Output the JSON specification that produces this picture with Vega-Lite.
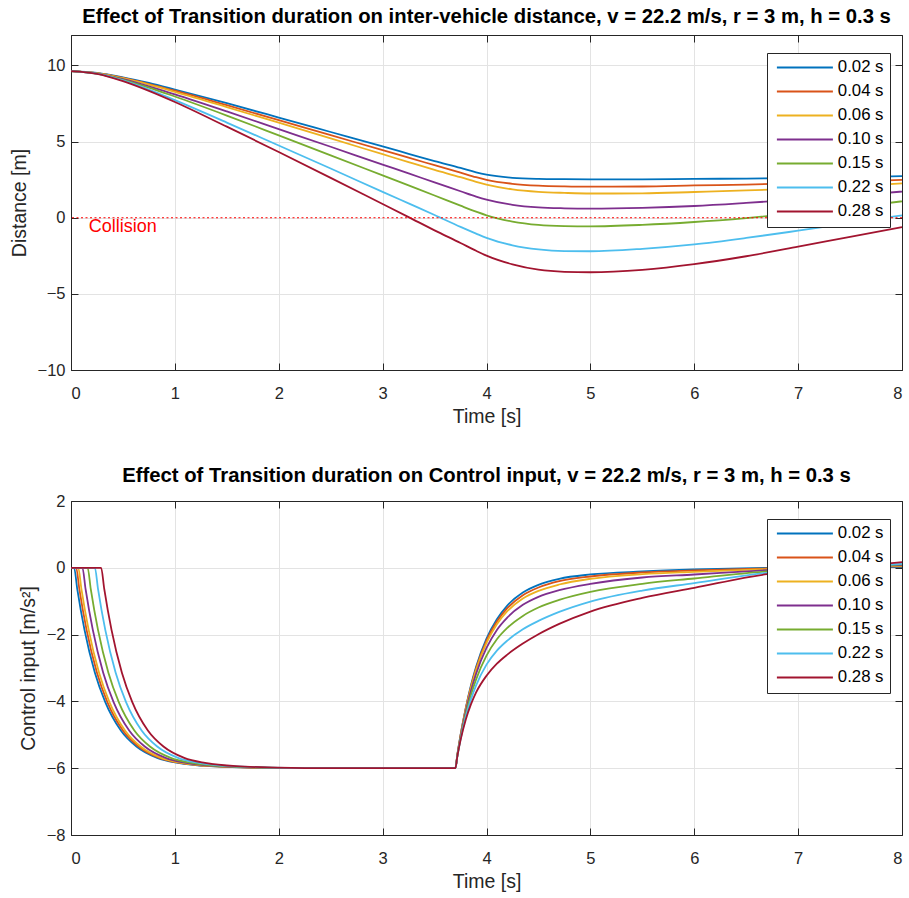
{
  "$schema": "https://vega.github.io/schema/vega-lite/v6.json",
  "background": "white",
  "padding": {"left": 8, "top": 6, "right": 0, "bottom": 0},
  "datasets": {
    "dist": [
      {"s":"0.02 s","t":0,"v":9.63},{"s":"0.02 s","t":0.25,"v":9.51},{"s":"0.02 s","t":0.5,"v":9.22},{"s":"0.02 s","t":0.75,"v":8.85},{"s":"0.02 s","t":1,"v":8.42},{"s":"0.02 s","t":1.5,"v":7.52},{"s":"0.02 s","t":2,"v":6.58},{"s":"0.02 s","t":2.5,"v":5.63},{"s":"0.02 s","t":3,"v":4.68},{"s":"0.02 s","t":3.25,"v":4.2},{"s":"0.02 s","t":3.5,"v":3.72},{"s":"0.02 s","t":3.75,"v":3.27},{"s":"0.02 s","t":3.9,"v":2.98},{"s":"0.02 s","t":4,"v":2.83},{"s":"0.02 s","t":4.25,"v":2.62},{"s":"0.02 s","t":4.5,"v":2.55},{"s":"0.02 s","t":4.75,"v":2.53},{"s":"0.02 s","t":5,"v":2.52},{"s":"0.02 s","t":5.5,"v":2.52},{"s":"0.02 s","t":6,"v":2.55},{"s":"0.02 s","t":6.5,"v":2.57},{"s":"0.02 s","t":7,"v":2.6},{"s":"0.02 s","t":7.5,"v":2.65},{"s":"0.02 s","t":8,"v":2.73},
      {"s":"0.04 s","t":0,"v":9.63},{"s":"0.04 s","t":0.25,"v":9.5},{"s":"0.04 s","t":0.5,"v":9.18},{"s":"0.04 s","t":0.75,"v":8.78},{"s":"0.04 s","t":1,"v":8.34},{"s":"0.04 s","t":1.5,"v":7.39},{"s":"0.04 s","t":2,"v":6.41},{"s":"0.04 s","t":2.5,"v":5.42},{"s":"0.04 s","t":3,"v":4.44},{"s":"0.04 s","t":3.25,"v":3.94},{"s":"0.04 s","t":3.5,"v":3.45},{"s":"0.04 s","t":3.75,"v":2.96},{"s":"0.04 s","t":3.9,"v":2.66},{"s":"0.04 s","t":4,"v":2.49},{"s":"0.04 s","t":4.25,"v":2.23},{"s":"0.04 s","t":4.5,"v":2.11},{"s":"0.04 s","t":4.75,"v":2.06},{"s":"0.04 s","t":5,"v":2.04},{"s":"0.04 s","t":5.5,"v":2.05},{"s":"0.04 s","t":6,"v":2.12},{"s":"0.04 s","t":6.5,"v":2.18},{"s":"0.04 s","t":7,"v":2.26},{"s":"0.04 s","t":7.5,"v":2.36},{"s":"0.04 s","t":8,"v":2.49},
      {"s":"0.06 s","t":0,"v":9.63},{"s":"0.06 s","t":0.25,"v":9.49},{"s":"0.06 s","t":0.5,"v":9.16},{"s":"0.06 s","t":0.75,"v":8.74},{"s":"0.06 s","t":1,"v":8.27},{"s":"0.06 s","t":1.5,"v":7.27},{"s":"0.06 s","t":2,"v":6.24},{"s":"0.06 s","t":2.5,"v":5.21},{"s":"0.06 s","t":3,"v":4.17},{"s":"0.06 s","t":3.25,"v":3.65},{"s":"0.06 s","t":3.5,"v":3.14},{"s":"0.06 s","t":3.75,"v":2.66},{"s":"0.06 s","t":3.9,"v":2.35},{"s":"0.06 s","t":4,"v":2.17},{"s":"0.06 s","t":4.25,"v":1.86},{"s":"0.06 s","t":4.5,"v":1.7},{"s":"0.06 s","t":4.75,"v":1.63},{"s":"0.06 s","t":5,"v":1.59},{"s":"0.06 s","t":5.5,"v":1.6},{"s":"0.06 s","t":6,"v":1.69},{"s":"0.06 s","t":6.5,"v":1.79},{"s":"0.06 s","t":7,"v":1.91},{"s":"0.06 s","t":7.5,"v":2.06},{"s":"0.06 s","t":8,"v":2.26},
      {"s":"0.10 s","t":0,"v":9.63},{"s":"0.10 s","t":0.25,"v":9.47},{"s":"0.10 s","t":0.5,"v":9.1},{"s":"0.10 s","t":0.75,"v":8.63},{"s":"0.10 s","t":1,"v":8.1},{"s":"0.10 s","t":1.5,"v":6.98},{"s":"0.10 s","t":2,"v":5.82},{"s":"0.10 s","t":2.5,"v":4.66},{"s":"0.10 s","t":3,"v":3.49},{"s":"0.10 s","t":3.25,"v":2.91},{"s":"0.10 s","t":3.5,"v":2.32},{"s":"0.10 s","t":3.75,"v":1.74},{"s":"0.10 s","t":3.9,"v":1.39},{"s":"0.10 s","t":4,"v":1.19},{"s":"0.10 s","t":4.25,"v":0.85},{"s":"0.10 s","t":4.5,"v":0.68},{"s":"0.10 s","t":4.75,"v":0.62},{"s":"0.10 s","t":5,"v":0.6},{"s":"0.10 s","t":5.5,"v":0.65},{"s":"0.10 s","t":6,"v":0.77},{"s":"0.10 s","t":6.5,"v":0.97},{"s":"0.10 s","t":7,"v":1.2},{"s":"0.10 s","t":7.5,"v":1.43},{"s":"0.10 s","t":8,"v":1.72},
      {"s":"0.15 s","t":0,"v":9.63},{"s":"0.15 s","t":0.25,"v":9.46},{"s":"0.15 s","t":0.5,"v":9.06},{"s":"0.15 s","t":0.75,"v":8.55},{"s":"0.15 s","t":1,"v":7.96},{"s":"0.15 s","t":1.5,"v":6.71},{"s":"0.15 s","t":2,"v":5.41},{"s":"0.15 s","t":2.5,"v":4.1},{"s":"0.15 s","t":3,"v":2.78},{"s":"0.15 s","t":3.25,"v":2.12},{"s":"0.15 s","t":3.5,"v":1.46},{"s":"0.15 s","t":3.75,"v":0.79},{"s":"0.15 s","t":3.9,"v":0.4},{"s":"0.15 s","t":4,"v":0.16},{"s":"0.15 s","t":4.25,"v":-0.25},{"s":"0.15 s","t":4.5,"v":-0.47},{"s":"0.15 s","t":4.75,"v":-0.55},{"s":"0.15 s","t":5,"v":-0.57},{"s":"0.15 s","t":5.5,"v":-0.47},{"s":"0.15 s","t":6,"v":-0.28},{"s":"0.15 s","t":6.5,"v":-0.02},{"s":"0.15 s","t":7,"v":0.3},{"s":"0.15 s","t":7.5,"v":0.66},{"s":"0.15 s","t":8,"v":1.08},
      {"s":"0.22 s","t":0,"v":9.63},{"s":"0.22 s","t":0.25,"v":9.46},{"s":"0.22 s","t":0.5,"v":9.02},{"s":"0.22 s","t":0.75,"v":8.42},{"s":"0.22 s","t":1,"v":7.72},{"s":"0.22 s","t":1.5,"v":6.25},{"s":"0.22 s","t":2,"v":4.74},{"s":"0.22 s","t":2.5,"v":3.23},{"s":"0.22 s","t":3,"v":1.7},{"s":"0.22 s","t":3.25,"v":0.94},{"s":"0.22 s","t":3.5,"v":0.18},{"s":"0.22 s","t":3.75,"v":-0.6},{"s":"0.22 s","t":3.9,"v":-1.04},{"s":"0.22 s","t":4,"v":-1.32},{"s":"0.22 s","t":4.25,"v":-1.81},{"s":"0.22 s","t":4.5,"v":-2.08},{"s":"0.22 s","t":4.75,"v":-2.19},{"s":"0.22 s","t":5,"v":-2.2},{"s":"0.22 s","t":5.5,"v":-2.04},{"s":"0.22 s","t":6,"v":-1.75},{"s":"0.22 s","t":6.5,"v":-1.33},{"s":"0.22 s","t":7,"v":-0.85},{"s":"0.22 s","t":7.5,"v":-0.35},{"s":"0.22 s","t":8,"v":0.16},
      {"s":"0.28 s","t":0,"v":9.63},{"s":"0.28 s","t":0.25,"v":9.45},{"s":"0.28 s","t":0.5,"v":8.97},{"s":"0.28 s","t":0.75,"v":8.33},{"s":"0.28 s","t":1,"v":7.6},{"s":"0.28 s","t":1.5,"v":5.98},{"s":"0.28 s","t":2,"v":4.32},{"s":"0.28 s","t":2.5,"v":2.62},{"s":"0.28 s","t":3,"v":0.9},{"s":"0.28 s","t":3.25,"v":0.04},{"s":"0.28 s","t":3.5,"v":-0.83},{"s":"0.28 s","t":3.75,"v":-1.66},{"s":"0.28 s","t":3.9,"v":-2.17},{"s":"0.28 s","t":4,"v":-2.49},{"s":"0.28 s","t":4.25,"v":-3.06},{"s":"0.28 s","t":4.5,"v":-3.41},{"s":"0.28 s","t":4.75,"v":-3.55},{"s":"0.28 s","t":5,"v":-3.58},{"s":"0.28 s","t":5.5,"v":-3.42},{"s":"0.28 s","t":6,"v":-3.05},{"s":"0.28 s","t":6.5,"v":-2.53},{"s":"0.28 s","t":7,"v":-1.9},{"s":"0.28 s","t":7.5,"v":-1.25},{"s":"0.28 s","t":8,"v":-0.61}
    ],
    "ctrl": [
      {"s":"0.02 s","t":0,"v":0},{"s":"0.02 s","t":0.03,"v":0},{"s":"0.02 s","t":0.06,"v":-0.63},{"s":"0.02 s","t":0.13,"v":-1.86},{"s":"0.02 s","t":0.23,"v":-3.14},{"s":"0.02 s","t":0.33,"v":-4.02},{"s":"0.02 s","t":0.48,"v":-4.87},{"s":"0.02 s","t":0.63,"v":-5.35},{"s":"0.02 s","t":0.83,"v":-5.69},{"s":"0.02 s","t":1.03,"v":-5.84},{"s":"0.02 s","t":1.33,"v":-5.94},{"s":"0.02 s","t":1.73,"v":-5.98},{"s":"0.02 s","t":2.23,"v":-6},{"s":"0.02 s","t":3.7,"v":-6},
      {"s":"0.02 s","t":3.72,"v":-5.58},{"s":"0.02 s","t":3.75,"v":-5.01},{"s":"0.02 s","t":3.8,"v":-4.2},{"s":"0.02 s","t":3.85,"v":-3.52},{"s":"0.02 s","t":3.9,"v":-2.96},{"s":"0.02 s","t":4,"v":-2.12},{"s":"0.02 s","t":4.1,"v":-1.54},{"s":"0.02 s","t":4.2,"v":-1.13},{"s":"0.02 s","t":4.35,"v":-0.74},{"s":"0.02 s","t":4.5,"v":-0.51},{"s":"0.02 s","t":4.7,"v":-0.33},{"s":"0.02 s","t":5,"v":-0.2},{"s":"0.02 s","t":5.5,"v":-0.11},{"s":"0.02 s","t":6,"v":-0.05},{"s":"0.02 s","t":6.7,"v":0},{"s":"0.02 s","t":7.3,"v":0.02},{"s":"0.02 s","t":8,"v":0.02},
      {"s":"0.04 s","t":0,"v":0},{"s":"0.04 s","t":0.05,"v":0},{"s":"0.04 s","t":0.08,"v":-0.63},{"s":"0.04 s","t":0.15,"v":-1.86},{"s":"0.04 s","t":0.25,"v":-3.14},{"s":"0.04 s","t":0.35,"v":-4.02},{"s":"0.04 s","t":0.5,"v":-4.87},{"s":"0.04 s","t":0.65,"v":-5.35},{"s":"0.04 s","t":0.85,"v":-5.69},{"s":"0.04 s","t":1.05,"v":-5.84},{"s":"0.04 s","t":1.35,"v":-5.94},{"s":"0.04 s","t":1.75,"v":-5.98},{"s":"0.04 s","t":2.25,"v":-6},{"s":"0.04 s","t":3.7,"v":-6},
      {"s":"0.04 s","t":3.72,"v":-5.59},{"s":"0.04 s","t":3.75,"v":-5.02},{"s":"0.04 s","t":3.8,"v":-4.22},{"s":"0.04 s","t":3.85,"v":-3.56},{"s":"0.04 s","t":3.9,"v":-3.01},{"s":"0.04 s","t":4,"v":-2.18},{"s":"0.04 s","t":4.1,"v":-1.61},{"s":"0.04 s","t":4.2,"v":-1.21},{"s":"0.04 s","t":4.35,"v":-0.82},{"s":"0.04 s","t":4.5,"v":-0.59},{"s":"0.04 s","t":4.7,"v":-0.4},{"s":"0.04 s","t":5,"v":-0.26},{"s":"0.04 s","t":5.5,"v":-0.14},{"s":"0.04 s","t":6,"v":-0.08},{"s":"0.04 s","t":6.7,"v":-0.02},{"s":"0.04 s","t":7.3,"v":0.02},{"s":"0.04 s","t":8,"v":0.04},
      {"s":"0.06 s","t":0,"v":0},{"s":"0.06 s","t":0.07,"v":0},{"s":"0.06 s","t":0.1,"v":-0.63},{"s":"0.06 s","t":0.17,"v":-1.86},{"s":"0.06 s","t":0.27,"v":-3.14},{"s":"0.06 s","t":0.37,"v":-4.02},{"s":"0.06 s","t":0.52,"v":-4.87},{"s":"0.06 s","t":0.67,"v":-5.35},{"s":"0.06 s","t":0.87,"v":-5.69},{"s":"0.06 s","t":1.07,"v":-5.84},{"s":"0.06 s","t":1.37,"v":-5.94},{"s":"0.06 s","t":1.77,"v":-5.98},{"s":"0.06 s","t":2.27,"v":-6},{"s":"0.06 s","t":3.7,"v":-6},
      {"s":"0.06 s","t":3.72,"v":-5.59},{"s":"0.06 s","t":3.75,"v":-5.04},{"s":"0.06 s","t":3.8,"v":-4.25},{"s":"0.06 s","t":3.85,"v":-3.6},{"s":"0.06 s","t":3.9,"v":-3.06},{"s":"0.06 s","t":4,"v":-2.25},{"s":"0.06 s","t":4.1,"v":-1.69},{"s":"0.06 s","t":4.2,"v":-1.3},{"s":"0.06 s","t":4.35,"v":-0.92},{"s":"0.06 s","t":4.5,"v":-0.69},{"s":"0.06 s","t":4.7,"v":-0.5},{"s":"0.06 s","t":5,"v":-0.33},{"s":"0.06 s","t":5.5,"v":-0.19},{"s":"0.06 s","t":6,"v":-0.12},{"s":"0.06 s","t":6.7,"v":-0.04},{"s":"0.06 s","t":7.3,"v":0.02},{"s":"0.06 s","t":8,"v":0.06},
      {"s":"0.10 s","t":0,"v":0},{"s":"0.10 s","t":0.11,"v":0},{"s":"0.10 s","t":0.14,"v":-0.63},{"s":"0.10 s","t":0.21,"v":-1.86},{"s":"0.10 s","t":0.31,"v":-3.14},{"s":"0.10 s","t":0.41,"v":-4.02},{"s":"0.10 s","t":0.56,"v":-4.87},{"s":"0.10 s","t":0.71,"v":-5.35},{"s":"0.10 s","t":0.91,"v":-5.69},{"s":"0.10 s","t":1.11,"v":-5.84},{"s":"0.10 s","t":1.41,"v":-5.94},{"s":"0.10 s","t":1.81,"v":-5.98},{"s":"0.10 s","t":2.31,"v":-6},{"s":"0.10 s","t":3.7,"v":-6},
      {"s":"0.10 s","t":3.72,"v":-5.61},{"s":"0.10 s","t":3.75,"v":-5.07},{"s":"0.10 s","t":3.8,"v":-4.31},{"s":"0.10 s","t":3.85,"v":-3.69},{"s":"0.10 s","t":3.9,"v":-3.17},{"s":"0.10 s","t":4,"v":-2.4},{"s":"0.10 s","t":4.1,"v":-1.86},{"s":"0.10 s","t":4.2,"v":-1.49},{"s":"0.10 s","t":4.35,"v":-1.11},{"s":"0.10 s","t":4.5,"v":-0.87},{"s":"0.10 s","t":4.7,"v":-0.67},{"s":"0.10 s","t":5,"v":-0.48},{"s":"0.10 s","t":5.5,"v":-0.29},{"s":"0.10 s","t":6,"v":-0.2},{"s":"0.10 s","t":6.7,"v":-0.07},{"s":"0.10 s","t":7.3,"v":0.01},{"s":"0.10 s","t":8,"v":0.08},
      {"s":"0.15 s","t":0,"v":0},{"s":"0.15 s","t":0.16,"v":0},{"s":"0.15 s","t":0.19,"v":-0.63},{"s":"0.15 s","t":0.26,"v":-1.86},{"s":"0.15 s","t":0.36,"v":-3.14},{"s":"0.15 s","t":0.46,"v":-4.02},{"s":"0.15 s","t":0.61,"v":-4.87},{"s":"0.15 s","t":0.76,"v":-5.35},{"s":"0.15 s","t":0.96,"v":-5.69},{"s":"0.15 s","t":1.16,"v":-5.84},{"s":"0.15 s","t":1.46,"v":-5.94},{"s":"0.15 s","t":1.86,"v":-5.98},{"s":"0.15 s","t":2.36,"v":-6},{"s":"0.15 s","t":3.7,"v":-6},
      {"s":"0.15 s","t":3.72,"v":-5.62},{"s":"0.15 s","t":3.75,"v":-5.11},{"s":"0.15 s","t":3.8,"v":-4.39},{"s":"0.15 s","t":3.85,"v":-3.81},{"s":"0.15 s","t":3.9,"v":-3.34},{"s":"0.15 s","t":4,"v":-2.63},{"s":"0.15 s","t":4.1,"v":-2.14},{"s":"0.15 s","t":4.2,"v":-1.8},{"s":"0.15 s","t":4.35,"v":-1.44},{"s":"0.15 s","t":4.5,"v":-1.19},{"s":"0.15 s","t":4.7,"v":-0.96},{"s":"0.15 s","t":5,"v":-0.72},{"s":"0.15 s","t":5.5,"v":-0.48},{"s":"0.15 s","t":6,"v":-0.32},{"s":"0.15 s","t":6.7,"v":-0.11},{"s":"0.15 s","t":7.3,"v":-0.01},{"s":"0.15 s","t":8,"v":0.1},
      {"s":"0.22 s","t":0,"v":0},{"s":"0.22 s","t":0.23,"v":0},{"s":"0.22 s","t":0.26,"v":-0.63},{"s":"0.22 s","t":0.33,"v":-1.86},{"s":"0.22 s","t":0.43,"v":-3.14},{"s":"0.22 s","t":0.53,"v":-4.02},{"s":"0.22 s","t":0.68,"v":-4.87},{"s":"0.22 s","t":0.83,"v":-5.35},{"s":"0.22 s","t":1.03,"v":-5.69},{"s":"0.22 s","t":1.23,"v":-5.84},{"s":"0.22 s","t":1.53,"v":-5.94},{"s":"0.22 s","t":1.93,"v":-5.98},{"s":"0.22 s","t":2.43,"v":-6},{"s":"0.22 s","t":3.7,"v":-6},
      {"s":"0.22 s","t":3.72,"v":-5.63},{"s":"0.22 s","t":3.75,"v":-5.14},{"s":"0.22 s","t":3.8,"v":-4.46},{"s":"0.22 s","t":3.85,"v":-3.94},{"s":"0.22 s","t":3.9,"v":-3.52},{"s":"0.22 s","t":4,"v":-2.9},{"s":"0.22 s","t":4.1,"v":-2.48},{"s":"0.22 s","t":4.2,"v":-2.18},{"s":"0.22 s","t":4.35,"v":-1.84},{"s":"0.22 s","t":4.5,"v":-1.59},{"s":"0.22 s","t":4.7,"v":-1.32},{"s":"0.22 s","t":5,"v":-1.01},{"s":"0.22 s","t":5.5,"v":-0.68},{"s":"0.22 s","t":6,"v":-0.46},{"s":"0.22 s","t":6.7,"v":-0.15},{"s":"0.22 s","t":7.3,"v":-0.02},{"s":"0.22 s","t":8,"v":0.12},
      {"s":"0.28 s","t":0,"v":0},{"s":"0.28 s","t":0.29,"v":0},{"s":"0.28 s","t":0.32,"v":-0.63},{"s":"0.28 s","t":0.39,"v":-1.86},{"s":"0.28 s","t":0.49,"v":-3.14},{"s":"0.28 s","t":0.59,"v":-4.02},{"s":"0.28 s","t":0.74,"v":-4.87},{"s":"0.28 s","t":0.89,"v":-5.35},{"s":"0.28 s","t":1.09,"v":-5.69},{"s":"0.28 s","t":1.29,"v":-5.84},{"s":"0.28 s","t":1.59,"v":-5.94},{"s":"0.28 s","t":1.99,"v":-5.98},{"s":"0.28 s","t":2.49,"v":-6},{"s":"0.28 s","t":3.7,"v":-6},
      {"s":"0.28 s","t":3.72,"v":-5.63},{"s":"0.28 s","t":3.75,"v":-5.16},{"s":"0.28 s","t":3.8,"v":-4.55},{"s":"0.28 s","t":3.85,"v":-4.09},{"s":"0.28 s","t":3.9,"v":-3.73},{"s":"0.28 s","t":4,"v":-3.23},{"s":"0.28 s","t":4.1,"v":-2.87},{"s":"0.28 s","t":4.2,"v":-2.6},{"s":"0.28 s","t":4.35,"v":-2.27},{"s":"0.28 s","t":4.5,"v":-1.99},{"s":"0.28 s","t":4.7,"v":-1.68},{"s":"0.28 s","t":5,"v":-1.31},{"s":"0.28 s","t":5.5,"v":-0.9},{"s":"0.28 s","t":6,"v":-0.6},{"s":"0.28 s","t":6.7,"v":-0.19},{"s":"0.28 s","t":7.3,"v":-0.03},{"s":"0.28 s","t":8,"v":0.17}
    ]
  },
  "vconcat": [
    {
      "width": 831,
      "height": 335,
      "title": {"text": "Effect of Transition duration on inter-vehicle distance, v = 22.2 m/s, r = 3 m, h = 0.3 s", "offset": 7},
      "layer": [
        {
          "data": {"name": "dist"},
          "mark": {"type": "line", "strokeWidth": 1.8, "interpolate": "monotone"},
          "encoding": {
            "x": {"field": "t", "type": "quantitative", "scale": {"domain": [0, 8], "nice": false}, "axis": {"values": [0,1,2,3,4,5,6,7,8], "title": "Time [s]", "grid": true, "labelPadding": 22, "titlePadding": 6}},
            "y": {"field": "v", "type": "quantitative", "scale": {"domain": [-10, 12], "nice": false, "zero": false}, "axis": {"values": [-10,-5,0,5,10], "title": "Distance [m]", "grid": true, "labelPadding": 13, "titlePadding": 8}},
            "color": {"field": "s", "type": "nominal", "scale": {"domain": ["0.02 s","0.04 s","0.06 s","0.10 s","0.15 s","0.22 s","0.28 s"], "range": ["#0072BD","#D95319","#EDB120","#7E2F8E","#77AC30","#4DBEEE","#A2142F"]}, "legend": {"title": null}}
          }
        },
        {
          "data": {"values": [{}]},
          "mark": {"type": "rule", "color": "#ff0000", "strokeDash": [2, 2.5], "strokeWidth": 1.2},
          "encoding": {"y": {"datum": 0, "type": "quantitative", "axis": null}}
        },
        {
          "data": {"values": [{}]},
          "mark": {"type": "text", "text": "Collision", "color": "#ff0000", "fontSize": 18, "align": "left", "baseline": "middle", "dy": 9},
          "encoding": {"x": {"datum": 0.17, "type": "quantitative", "axis": null}, "y": {"datum": 0, "type": "quantitative", "axis": null}}
        },
        {
          "data": {"name": "dist"},
          "mark": {"type": "line", "opacity": 0},
          "encoding": {
            "x": {"field": "t", "type": "quantitative", "axis": {"orient": "top", "labels": false, "title": null, "grid": false, "values": [0,1,2,3,4,5,6,7,8]}},
            "y": {"field": "v", "type": "quantitative", "axis": {"orient": "right", "labels": false, "title": null, "grid": false, "values": [-10,-5,0,5,10]}},
            "detail": {"field": "s"}
          }
        }
      ],
      "resolve": {"axis": {"x": "independent", "y": "independent"}}
    },
    {
      "width": 831,
      "height": 334,
      "title": {"text": "Effect of Transition duration on Control input, v = 22.2 m/s, r = 3 m, h = 0.3 s", "offset": 7},
      "layer": [
        {
          "data": {"name": "ctrl"},
          "mark": {"type": "line", "strokeWidth": 1.8, "interpolate": "monotone"},
          "encoding": {
            "x": {"field": "t", "type": "quantitative", "scale": {"domain": [0, 8], "nice": false}, "axis": {"values": [0,1,2,3,4,5,6,7,8], "title": "Time [s]", "grid": true, "labelPadding": 22, "titlePadding": 6}},
            "y": {"field": "v", "type": "quantitative", "scale": {"domain": [-8, 2], "nice": false, "zero": false}, "axis": {"values": [-8,-6,-4,-2,0,2], "title": "Control input [m/s²]", "grid": true, "labelPadding": 13, "titlePadding": 8}},
            "color": {"field": "s", "type": "nominal", "scale": {"domain": ["0.02 s","0.04 s","0.06 s","0.10 s","0.15 s","0.22 s","0.28 s"], "range": ["#0072BD","#D95319","#EDB120","#7E2F8E","#77AC30","#4DBEEE","#A2142F"]}, "legend": {"title": null}}
          }
        },
        {
          "data": {"name": "ctrl"},
          "mark": {"type": "line", "opacity": 0},
          "encoding": {
            "x": {"field": "t", "type": "quantitative", "axis": {"orient": "top", "labels": false, "title": null, "grid": false, "values": [0,1,2,3,4,5,6,7,8]}},
            "y": {"field": "v", "type": "quantitative", "axis": {"orient": "right", "labels": false, "title": null, "grid": false, "values": [-8,-6,-4,-2,0,2]}},
            "detail": {"field": "s"}
          }
        }
      ],
      "resolve": {"axis": {"x": "independent", "y": "independent"}}
    }
  ],
  "spacing": 38,
  "resolve": {"scale": {"color": "independent"}, "legend": {"color": "independent"}},
  "config": {
    "font": "Liberation Sans",
    "view": {"stroke": "#262626", "strokeWidth": 1},
    "axis": {"domainColor": "#262626", "tickColor": "#262626", "labelColor": "#262626", "titleColor": "#262626", "gridColor": "#e3e3e3", "gridOpacity": 1, "labelFontSize": 16.5, "titleFontSize": 19.5, "titleFontWeight": "normal", "labelFont": "Liberation Sans", "titleFont": "Liberation Sans", "tickSize": -7, "domainWidth": 1, "tickWidth": 1},
    "title": {"fontSize": 20.3, "fontWeight": "bold", "color": "#000000", "font": "Liberation Sans"},
    "legend": {"orient": "none", "legendX": 696, "legendY": 18, "symbolType": "M-0.9,0H10.3", "symbolSize": 100, "symbolStrokeWidth": 2, "labelFontSize": 16.8, "labelOffset": 48, "padding": 6, "strokeColor": "#262626", "fillColor": "white", "rowPadding": 6, "labelFont": "Liberation Sans", "labelColor": "#000000"}
  }
}
